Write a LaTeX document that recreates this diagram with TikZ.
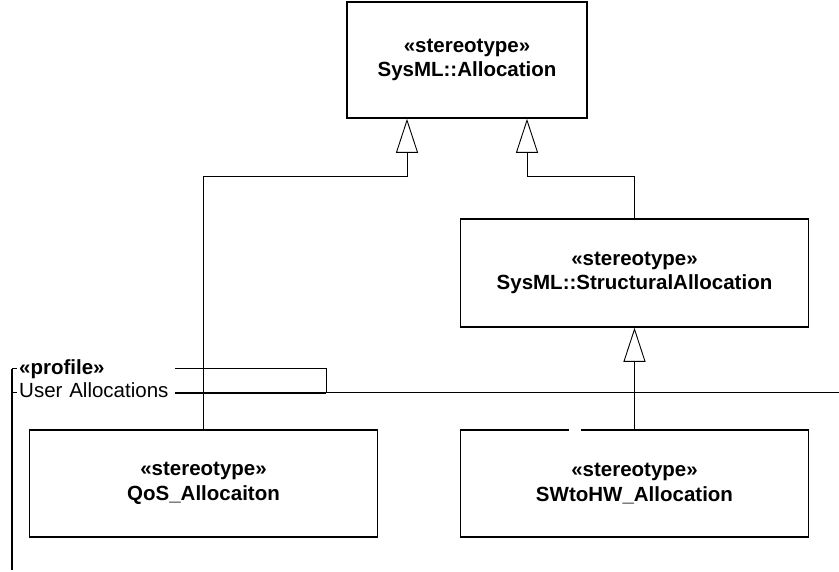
\documentclass[tikz,border=0pt]{standalone}
\usepackage{fontspec}
\setmainfont{Liberation Sans}
\usetikzlibrary{positioning,calc,arrows.meta}
\newcommand{\umlsize}{\fontsize{20.5}{24.5}\selectfont}
\tikzset{
  stereo/.style={rectangle,draw,line width=1.6pt,fill=white,align=center,inner sep=0,
                 font=\umlsize\bfseries},
  % generalization: thin line, open triangle at the parent
  gen/.style={line width=0.9pt,-{Triangle[open,length=34pt,width=22pt,line width=0.9pt]}},
  frame/.style={line width=1pt},
  tablab/.style={fill=white,inner xsep=2pt,inner ysep=1pt,text width=154pt,align=left,font=\umlsize},
}

\begin{document}
\begin{tikzpicture}[x=1pt,y=1pt]
  \useasboundingbox (0,0) rectangle (839,-572);
  % the profile package: tab and frame
  \draw[frame] (326,-393) -- (326,-369) -- (12,-369);
  \draw[line width=1.6pt] (12,-369) -- (12,-570);
  \draw[frame] (12,-393) -- (839,-393);
  \draw[line width=1.6pt] (175,-393) -- (326,-393);
  \node[tablab,anchor=base west] (pname) at (17,-397) {User Allocations};
  \node[tablab,anchor=base west,font=\umlsize\bfseries] (pkind) at (17,-374) {«profile»};
  % stereotypes
  \node[stereo,minimum width=240pt,minimum height=116pt] (alloc) at (467,-60)
       {«stereotype»\\SysML::Allocation};
  \node[stereo,minimum width=348pt,minimum height=108pt] (struct) at (634.5,-273)
       {«stereotype»\\SysML::StructuralAllocation};
  \node[stereo,minimum width=348pt,minimum height=107pt] (qos) at (203.5,-483.5)
       {«stereotype»\\QoS\_Allocaiton};
  \node[stereo,minimum width=348pt,minimum height=107pt] (swhw) at (634.5,-483.5)
       {«stereotype»\\SWtoHW\_Allocation};
  \fill[white] (569,-427) rectangle (581,-433); % break in the top edge
  % generalizations
  \coordinate (a1) at ([xshift=-60pt]alloc.south);
  \coordinate (a2) at ([xshift=60pt]alloc.south);
  \draw[gen] (qos.north) |- ([yshift=-58pt]a1) -- (a1);
  \draw[gen] (struct.north) |- ([yshift=-58pt]a2) -- (a2);
  \draw[gen] (swhw.north) -- (struct.south);
\end{tikzpicture}
\end{document}
